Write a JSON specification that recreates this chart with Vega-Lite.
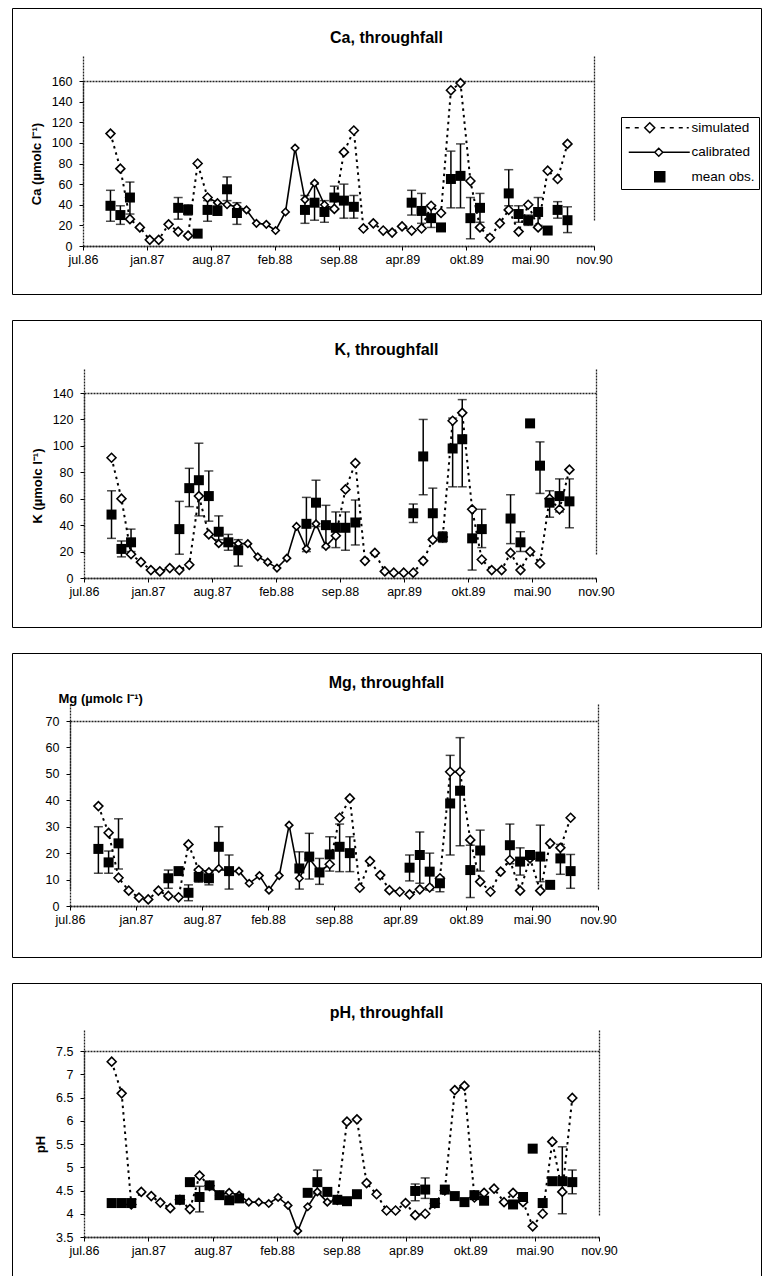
{
"$schema": "https://vega.github.io/schema/vega-lite/v6.json",
"background": "white",
"padding": {"left": 11, "top": 7, "right": 2, "bottom": 0},
"spacing": 24,
"config": {
 "view": {"stroke": "black", "strokeWidth": 1},
 "font": "Liberation Sans",
 "title": {"font": "Liberation Sans", "fontSize": 16, "fontWeight": "bold", "anchor": "middle", "frame": "group", "color": "black"},
 "axis": {"labelFont": "Liberation Sans", "labelFontSize": 12.5, "labelColor": "black", "tickColor": "black", "domain": true, "domainColor": "#222", "domainWidth": 1.3, "domainDash": [2,1], "grid": true, "gridColor": "#222", "gridWidth": 1.3, "gridDash": [2,1], "titleFont": "Liberation Sans", "titleFontSize": 13, "titleFontWeight": "bold", "titleColor": "black", "ticks": true, "tickSize": 4},
 "axisX": {"labelPadding": 3, "labelFlush": false, "labelOverlap": false},
 "axisY": {"labelPadding": 7, "titlePadding": 8},
 "legend": {"title": null, "orient": "none", "strokeColor": "black", "fillColor": "white", "padding": 4, "labelFont": "Liberation Sans", "labelFontSize": 13.5, "labelColor": "black", "labelOffset": 53, "rowPadding": 8.5, "symbolSize": 100, "symbolOpacity": 1, "symbolStrokeColor": "black", "symbolStrokeWidth": 1.5, "symbolFillColor": "transparent"}
},
"datasets": {
 "ca": [
{"d":"1986-09-30","sim":109,"obs":39,"lo":24,"hi":54},
{"d":"1986-10-31","sim":75,"obs":30,"lo":21,"hi":39},
{"d":"1986-11-30","sim":26,"obs":47,"lo":31,"hi":62},
{"d":"1986-12-31","sim":18},
{"d":"1987-01-31","sim":6},
{"d":"1987-02-28","sim":6},
{"d":"1987-03-31","sim":21},
{"d":"1987-04-30","sim":14,"obs":37,"lo":26,"hi":47},
{"d":"1987-05-31","sim":10,"obs":35,"lo":30,"hi":40},
{"d":"1987-06-30","sim":80,"obs":12},
{"d":"1987-07-31","sim":47,"cal":47,"obs":35,"lo":24,"hi":44},
{"d":"1987-08-31","cal":42,"obs":34,"lo":30,"hi":39},
{"d":"1987-09-30","cal":40,"obs":55,"lo":44,"hi":67},
{"d":"1987-10-31","cal":38,"obs":32,"lo":21,"hi":42},
{"d":"1987-11-30","cal":35},
{"d":"1987-12-31","cal":22},
{"d":"1988-01-31","cal":21},
{"d":"1988-02-29","cal":15},
{"d":"1988-03-31","cal":33},
{"d":"1988-04-30","cal":95},
{"d":"1988-05-31","cal":45,"obs":35,"lo":22,"hi":49},
{"d":"1988-06-30","cal":61,"obs":42,"lo":25,"hi":60},
{"d":"1988-07-31","cal":40,"obs":33,"lo":23,"hi":44},
{"d":"1988-08-31","sim":36,"cal":36,"obs":47,"lo":36,"hi":58},
{"d":"1988-09-30","sim":91,"obs":44,"lo":27,"hi":60},
{"d":"1988-10-31","sim":112,"obs":38,"lo":27,"hi":49},
{"d":"1988-11-30","sim":17},
{"d":"1988-12-31","sim":22},
{"d":"1989-01-31","sim":15},
{"d":"1989-02-28","sim":13},
{"d":"1989-03-31","sim":19},
{"d":"1989-04-30","sim":15,"obs":42,"lo":30,"hi":54},
{"d":"1989-05-31","sim":17,"obs":34,"lo":22,"hi":51},
{"d":"1989-06-30","sim":39,"obs":27,"lo":18,"hi":40},
{"d":"1989-07-31","sim":32,"obs":18},
{"d":"1989-08-31","sim":151,"obs":65,"lo":37,"hi":92},
{"d":"1989-09-30","sim":158,"obs":68,"lo":37,"hi":99},
{"d":"1989-10-31","sim":63,"obs":27,"lo":7,"hi":47},
{"d":"1989-11-30","sim":18,"obs":37,"lo":23,"hi":51},
{"d":"1989-12-31","sim":8},
{"d":"1990-01-31","sim":22},
{"d":"1990-02-28","sim":35,"obs":51,"lo":39,"hi":74},
{"d":"1990-03-31","sim":14,"obs":31,"lo":23,"hi":39},
{"d":"1990-04-30","sim":40,"obs":25,"lo":20,"hi":30},
{"d":"1990-05-31","sim":18,"obs":33,"lo":20,"hi":47},
{"d":"1990-06-30","sim":73,"obs":15},
{"d":"1990-07-31","sim":65,"obs":35,"lo":27,"hi":43},
{"d":"1990-08-31","sim":99,"obs":25,"lo":13,"hi":38}
 ],
 "k": [
{"d":"1986-09-30","sim":91,"obs":48,"lo":30,"hi":66},
{"d":"1986-10-31","sim":60,"obs":22,"lo":16,"hi":28},
{"d":"1986-11-30","sim":18,"obs":27,"lo":20,"hi":37},
{"d":"1986-12-31","sim":12},
{"d":"1987-01-31","sim":6},
{"d":"1987-02-28","sim":5},
{"d":"1987-03-31","sim":7.5},
{"d":"1987-04-30","sim":6,"obs":37,"lo":18,"hi":58},
{"d":"1987-05-31","sim":10,"obs":68,"lo":54,"hi":83},
{"d":"1987-06-30","sim":62,"obs":74,"lo":47,"hi":102},
{"d":"1987-07-31","sim":33,"cal":33,"obs":62,"lo":43,"hi":81},
{"d":"1987-08-31","cal":26,"obs":35,"lo":29,"hi":47},
{"d":"1987-09-30","cal":27,"obs":27,"lo":21,"hi":33},
{"d":"1987-10-31","cal":26,"obs":21,"lo":9,"hi":29},
{"d":"1987-11-30","cal":26},
{"d":"1987-12-31","cal":16},
{"d":"1988-01-31","cal":12},
{"d":"1988-02-29","cal":7.5},
{"d":"1988-03-31","cal":15},
{"d":"1988-04-30","cal":39},
{"d":"1988-05-31","cal":22,"obs":41,"lo":20,"hi":61},
{"d":"1988-06-30","cal":41,"obs":57,"lo":39,"hi":74},
{"d":"1988-07-31","cal":24,"obs":40,"lo":23,"hi":55},
{"d":"1988-08-31","sim":32,"cal":32,"obs":38,"lo":23,"hi":50},
{"d":"1988-09-30","sim":67,"obs":38,"lo":21,"hi":50},
{"d":"1988-10-31","sim":87,"obs":42,"lo":25,"hi":59},
{"d":"1988-11-30","sim":13},
{"d":"1988-12-31","sim":19},
{"d":"1989-01-31","sim":5},
{"d":"1989-02-28","sim":4},
{"d":"1989-03-31","sim":4},
{"d":"1989-04-30","sim":4,"obs":49,"lo":42,"hi":56},
{"d":"1989-05-31","sim":13,"obs":92,"lo":63,"hi":120},
{"d":"1989-06-30","sim":29,"obs":49,"lo":30,"hi":68},
{"d":"1989-07-31","sim":31,"obs":31,"lo":27,"hi":35},
{"d":"1989-08-31","sim":119,"obs":98,"lo":69,"hi":121},
{"d":"1989-09-30","sim":125,"obs":105,"lo":69,"hi":135},
{"d":"1989-10-31","sim":52,"obs":30,"lo":6,"hi":52},
{"d":"1989-11-30","sim":14,"obs":37,"lo":23,"hi":52},
{"d":"1989-12-31","sim":6},
{"d":"1990-01-31","sim":6},
{"d":"1990-02-28","sim":19,"obs":45,"lo":26,"hi":63},
{"d":"1990-03-31","sim":6,"obs":27,"lo":20,"hi":35},
{"d":"1990-04-30","sim":20,"obs":117},
{"d":"1990-05-31","sim":11,"obs":85,"lo":64,"hi":103},
{"d":"1990-06-30","sim":60,"obs":57,"lo":46,"hi":66},
{"d":"1990-07-31","sim":52,"obs":62,"lo":50,"hi":75},
{"d":"1990-08-31","sim":82,"obs":58,"lo":38,"hi":75}
 ],
 "mg": [
{"d":"1986-09-30","sim":37.8,"obs":21.6,"lo":12.4,"hi":30},
{"d":"1986-10-31","sim":27.7,"obs":16.5,"lo":12.4,"hi":20.8},
{"d":"1986-11-30","sim":10.7,"obs":23.7,"lo":14,"hi":33},
{"d":"1986-12-31","sim":5.8},
{"d":"1987-01-31","sim":3.2},
{"d":"1987-02-28","sim":2.5},
{"d":"1987-03-31","sim":5.8},
{"d":"1987-04-30","sim":3.8,"obs":10.5,"lo":6.7,"hi":13.6},
{"d":"1987-05-31","sim":3.3,"obs":13.2,"lo":12,"hi":14},
{"d":"1987-06-30","sim":23.3,"obs":5,"lo":2,"hi":8},
{"d":"1987-07-31","sim":13.6,"cal":13.6,"obs":11,"lo":9,"hi":14},
{"d":"1987-08-31","cal":13,"obs":10.5,"lo":8,"hi":13},
{"d":"1987-09-30","cal":14.2,"obs":22.4,"lo":13.6,"hi":30},
{"d":"1987-10-31","cal":13,"obs":13.2,"lo":6.4,"hi":19.3},
{"d":"1987-11-30","cal":13.2},
{"d":"1987-12-31","cal":8.6},
{"d":"1988-01-31","cal":11.5},
{"d":"1988-02-29","cal":6},
{"d":"1988-03-31","cal":11.5},
{"d":"1988-04-30","cal":30.6},
{"d":"1988-05-31","cal":10.5,"obs":14.2,"lo":6.4,"hi":20.5},
{"d":"1988-06-30","cal":18,"obs":18.7,"lo":10.2,"hi":27.5},
{"d":"1988-07-31","cal":13,"obs":12.7,"lo":8.2,"hi":18},
{"d":"1988-08-31","sim":15.8,"cal":15.8,"obs":19.5,"lo":13.2,"hi":26.2},
{"d":"1988-09-30","sim":33.4,"obs":22.4,"lo":13,"hi":31},
{"d":"1988-10-31","sim":40.7,"obs":20,"lo":13,"hi":26.2},
{"d":"1988-11-30","sim":6.9},
{"d":"1988-12-31","sim":17},
{"d":"1989-01-31","sim":11.7},
{"d":"1989-02-28","sim":6},
{"d":"1989-03-31","sim":5.4},
{"d":"1989-04-30","sim":4.4,"obs":14.5,"lo":9.5,"hi":19.3},
{"d":"1989-05-31","sim":6.3,"obs":19.3,"lo":8.6,"hi":28},
{"d":"1989-06-30","sim":7,"obs":13,"lo":6,"hi":20},
{"d":"1989-07-31","sim":10.5,"obs":8.6,"lo":5.4,"hi":11},
{"d":"1989-08-31","sim":50.8,"obs":38.8,"lo":19.3,"hi":57},
{"d":"1989-09-30","sim":50.8,"obs":43.6,"lo":22.8,"hi":63.7},
{"d":"1989-10-31","sim":25,"obs":13.6,"lo":3.2,"hi":23},
{"d":"1989-11-30","sim":9.2,"obs":21,"lo":13.2,"hi":28.7},
{"d":"1989-12-31","sim":5.4},
{"d":"1990-01-31","sim":13},
{"d":"1990-02-28","sim":17.4,"obs":23,"lo":16,"hi":31},
{"d":"1990-03-31","sim":5.8,"obs":16.8,"lo":11.7,"hi":22},
{"d":"1990-04-30","sim":18,"obs":19.3},
{"d":"1990-05-31","sim":5.8,"obs":18.7,"lo":9.2,"hi":30.6},
{"d":"1990-06-30","sim":23.7,"obs":8},
{"d":"1990-07-31","sim":22,"obs":18,"lo":12,"hi":23.3},
{"d":"1990-08-31","sim":33.4,"obs":13.2,"lo":6.7,"hi":19.5}
 ],
 "ph": [
{"d":"1986-09-30","sim":7.27,"obs":4.23},
{"d":"1986-10-31","sim":6.59,"obs":4.23},
{"d":"1986-11-30","sim":4.2,"obs":4.23},
{"d":"1986-12-31","sim":4.47},
{"d":"1987-01-31","sim":4.38},
{"d":"1987-02-28","sim":4.24},
{"d":"1987-03-31","sim":4.12},
{"d":"1987-04-30","sim":4.3,"obs":4.3},
{"d":"1987-05-31","sim":4.1,"obs":4.68},
{"d":"1987-06-30","sim":4.82,"obs":4.36,"lo":4.04,"hi":4.59},
{"d":"1987-07-31","sim":4.6,"cal":4.6,"obs":4.61},
{"d":"1987-08-31","cal":4.4,"obs":4.4},
{"d":"1987-09-30","cal":4.46,"obs":4.29},
{"d":"1987-10-31","cal":4.4,"obs":4.33},
{"d":"1987-11-30","cal":4.25},
{"d":"1987-12-31","cal":4.25},
{"d":"1988-01-31","cal":4.22},
{"d":"1988-02-29","cal":4.35},
{"d":"1988-03-31","cal":4.18},
{"d":"1988-04-30","cal":3.63},
{"d":"1988-05-31","cal":4.15,"obs":4.45},
{"d":"1988-06-30","cal":4.47,"obs":4.68,"lo":4.43,"hi":4.94},
{"d":"1988-07-31","cal":4.25,"obs":4.47},
{"d":"1988-08-31","sim":4.3,"cal":4.3,"obs":4.3},
{"d":"1988-09-30","sim":5.98,"obs":4.27},
{"d":"1988-10-31","sim":6.03,"obs":4.42},
{"d":"1988-11-30","sim":4.66},
{"d":"1988-12-31","sim":4.42},
{"d":"1989-01-31","sim":4.07},
{"d":"1989-02-28","sim":4.07},
{"d":"1989-03-31","sim":4.23},
{"d":"1989-04-30","sim":3.97,"obs":4.49,"lo":4.28,"hi":4.64},
{"d":"1989-05-31","sim":4.0,"obs":4.52,"lo":4.33,"hi":4.77},
{"d":"1989-06-30","sim":4.22,"obs":4.23},
{"d":"1989-07-31","sim":4.5,"obs":4.52},
{"d":"1989-08-31","sim":6.66,"obs":4.38},
{"d":"1989-09-30","sim":6.75,"obs":4.25},
{"d":"1989-10-31","sim":4.35,"obs":4.4},
{"d":"1989-11-30","sim":4.45,"obs":4.28},
{"d":"1989-12-31","sim":4.54},
{"d":"1990-01-31","sim":4.25},
{"d":"1990-02-28","sim":4.45,"obs":4.2},
{"d":"1990-03-31","sim":4.25,"obs":4.36},
{"d":"1990-04-30","sim":3.73,"obs":5.4},
{"d":"1990-05-31","sim":4.0,"obs":4.23},
{"d":"1990-06-30","sim":5.55,"obs":4.7},
{"d":"1990-07-31","sim":4.47,"obs":4.7,"lo":4.0,"hi":5.44},
{"d":"1990-08-31","sim":6.49,"obs":4.68,"lo":4.43,"hi":4.94}
 ]
},
"vconcat": [
{
 "width": 749, "height": 286,
 "title": {"text": "Ca, throughfall", "offset": -38},
 "data": {"name": "ca"},
 "transform": [{"fold": ["sim","cal","obs"], "as": ["s","v"]}],
 "encoding": {
  "x": {"field": "d", "type": "temporal", "scale": {"domain": [{"year":1986,"month":7,"date":6},{"year":1990,"month":11,"date":22}], "range": [71,582], "nice": false},
   "axis": {"orient": "bottom", "offset": -48, "title": null, "values": [{"year":1987,"month":1,"date":22},{"year":1987,"month":8,"date":10},{"year":1988,"month":2,"date":26},{"year":1988,"month":9,"date":13},{"year":1989,"month":4,"date":1},{"year":1989,"month":10,"date":18},{"year":1990,"month":5,"date":6},{"year":1990,"month":11,"date":22},{"year":1986,"month":7,"date":6}], "labelExpr": "['jan','feb','mar','apr','mai','jun','jul','aug','sep','okt','nov','des'][month(datum.value)] + '.' + timeFormat(datum.value, '%y')", "gridOpacity": {"condition": {"test": "datum.value < datetime(1986,7,1) || datum.value > datetime(1990,10,1)", "value": 1}, "value": 0}}},
  "y": {"field": "v", "type": "quantitative", "scale": {"domain": [0,160], "range": [238,73], "nice": false, "zero": false},
   "axis": {"orient": "left", "offset": -71, "values": [20,40,60,80,100,120,140,160,0], "title": "Ca (µmolc l⁻¹)", "gridOpacity": {"condition": {"test": "datum.value == 0 || datum.value == 160", "value": 1}, "value": 0}}}
 },
 "layer": [
  {"transform": [{"filter": "datum.s == 'sim'"}], "mark": {"type": "line", "color": "black", "strokeWidth": 2, "strokeDash": [2.5,4], "invalid": "break-paths-filter-domains"}},
  {"transform": [{"filter": "datum.s == 'cal'"}], "mark": {"type": "line", "color": "black", "strokeWidth": 1.6, "invalid": "break-paths-filter-domains"}},
  {"transform": [{"filter": "datum.s == 'obs' && isValid(datum.lo)"}], "mark": {"type": "rule", "color": "black", "strokeWidth": 1.5},
   "encoding": {"y": {"field": "lo", "type": "quantitative", "scale": {"domain": [0,160], "range": [238,73], "nice": false, "zero": false},
     "axis": {"orient": "left", "offset": -71, "values": [20,40,60,80,100,120,140,160,0], "title": "Ca (µmolc l⁻¹)", "gridOpacity": {"condition": {"test": "datum.value == 0 || datum.value == 160", "value": 1}, "value": 0}}}, "y2": {"field": "hi"}}},
  {"transform": [{"filter": "datum.s == 'obs' && isValid(datum.lo)"}], "mark": {"type": "tick", "orient": "horizontal", "color": "black", "size": 9, "thickness": 1.5},
   "encoding": {"y": {"field": "lo", "type": "quantitative", "scale": {"domain": [0,160], "range": [238,73], "nice": false, "zero": false},
     "axis": {"orient": "left", "offset": -71, "values": [20,40,60,80,100,120,140,160,0], "title": "Ca (µmolc l⁻¹)", "gridOpacity": {"condition": {"test": "datum.value == 0 || datum.value == 160", "value": 1}, "value": 0}}}}},
  {"transform": [{"filter": "datum.s == 'obs' && isValid(datum.hi)"}], "mark": {"type": "tick", "orient": "horizontal", "color": "black", "size": 9, "thickness": 1.5},
   "encoding": {"y": {"field": "hi", "type": "quantitative", "scale": {"domain": [0,160], "range": [238,73], "nice": false, "zero": false},
     "axis": {"orient": "left", "offset": -71, "values": [20,40,60,80,100,120,140,160,0], "title": "Ca (µmolc l⁻¹)", "gridOpacity": {"condition": {"test": "datum.value == 0 || datum.value == 160", "value": 1}, "value": 0}}}}},
  {"transform": [{"filter": "datum.s == 'sim' && isValid(datum.v)"}], "mark": {"type": "point", "shape": "diamond", "filled": true, "fill": "white", "stroke": "black", "strokeWidth": 1.6, "size": 80, "opacity": 1}},
  {"transform": [{"filter": "datum.s == 'cal' && isValid(datum.v) && !isValid(datum.sim)"}], "mark": {"type": "point", "shape": "diamond", "filled": true, "fill": "white", "stroke": "black", "strokeWidth": 1.6, "size": 55, "opacity": 1}},
  {"transform": [{"filter": "datum.s == 'obs' && isValid(datum.v)"}], "mark": {"type": "point", "shape": "square", "filled": true, "color": "black", "size": 100, "opacity": 1}},
  {"transform": [{"filter": "isValid(datum.v)"}], "mark": {"type": "point", "filled": false, "color": "black", "opacity": 0},
   "encoding": {"shape": {"field": "s", "type": "nominal",
     "scale": {"domain": ["sim","cal","obs"], "range": ["M-1.2,0H-0.4M0.6,0H1.4M2.6,0L3.6,-1L4.6,0L3.6,1ZM5.8,0H6.6M7.6,0H8.4M9.4,0H10.2M11,0H11.4", "M-0.6,0H4.6L5.4,-0.8L6.2,0L5.4,0.8L4.6,0M6.2,0H11.6", "M4.6,-1H6.6V1H4.6ZM4.6,-0.7H6.6M4.6,-0.4H6.6M4.6,-0.1H6.6M4.6,0.2H6.6M4.6,0.5H6.6M4.6,0.8H6.6"]},
     "legend": {"legendX": 609, "legendY": 109, "labelExpr": "datum.value == 'sim' ? 'simulated' : datum.value == 'cal' ? 'calibrated' : 'mean obs.'"}}}}
 ]
},
{
 "width": 749, "height": 307,
 "title": {"text": "K, throughfall", "offset": -38},
 "data": {"name": "k"},
 "transform": [{"fold": ["sim","cal","obs"], "as": ["s","v"]}],
 "encoding": {
  "x": {"field": "d", "type": "temporal", "scale": {"domain": [{"year":1986,"month":7,"date":6},{"year":1990,"month":11,"date":22}], "range": [72,584], "nice": false},
   "axis": {"orient": "bottom", "offset": -49, "title": null, "values": [{"year":1987,"month":1,"date":22},{"year":1987,"month":8,"date":10},{"year":1988,"month":2,"date":26},{"year":1988,"month":9,"date":13},{"year":1989,"month":4,"date":1},{"year":1989,"month":10,"date":18},{"year":1990,"month":5,"date":6},{"year":1990,"month":11,"date":22},{"year":1986,"month":7,"date":6}], "labelExpr": "['jan','feb','mar','apr','mai','jun','jul','aug','sep','okt','nov','des'][month(datum.value)] + '.' + timeFormat(datum.value, '%y')", "gridOpacity": {"condition": {"test": "datum.value < datetime(1986,7,1) || datum.value > datetime(1990,10,1)", "value": 1}, "value": 0}}},
  "y": {"field": "v", "type": "quantitative", "scale": {"domain": [0,140], "range": [258,73], "nice": false, "zero": false},
   "axis": {"orient": "left", "offset": -72, "values": [20,40,60,80,100,120,140,0], "title": "K (µmolc l⁻¹)", "gridOpacity": {"condition": {"test": "datum.value == 0 || datum.value == 140", "value": 1}, "value": 0}}}
 },
 "layer": [
  {"transform": [{"filter": "datum.s == 'sim'"}], "mark": {"type": "line", "color": "black", "strokeWidth": 2, "strokeDash": [2.5,4], "invalid": "break-paths-filter-domains"}},
  {"transform": [{"filter": "datum.s == 'cal'"}], "mark": {"type": "line", "color": "black", "strokeWidth": 1.6, "invalid": "break-paths-filter-domains"}},
  {"transform": [{"filter": "datum.s == 'obs' && isValid(datum.lo)"}], "mark": {"type": "rule", "color": "black", "strokeWidth": 1.5},
   "encoding": {"y": {"field": "lo", "type": "quantitative", "scale": {"domain": [0,140], "range": [258,73], "nice": false, "zero": false},
     "axis": {"orient": "left", "offset": -72, "values": [20,40,60,80,100,120,140,0], "title": "K (µmolc l⁻¹)", "gridOpacity": {"condition": {"test": "datum.value == 0 || datum.value == 140", "value": 1}, "value": 0}}}, "y2": {"field": "hi"}}},
  {"transform": [{"filter": "datum.s == 'obs' && isValid(datum.lo)"}], "mark": {"type": "tick", "orient": "horizontal", "color": "black", "size": 9, "thickness": 1.5},
   "encoding": {"y": {"field": "lo", "type": "quantitative", "scale": {"domain": [0,140], "range": [258,73], "nice": false, "zero": false},
     "axis": {"orient": "left", "offset": -72, "values": [20,40,60,80,100,120,140,0], "title": "K (µmolc l⁻¹)", "gridOpacity": {"condition": {"test": "datum.value == 0 || datum.value == 140", "value": 1}, "value": 0}}}}},
  {"transform": [{"filter": "datum.s == 'obs' && isValid(datum.hi)"}], "mark": {"type": "tick", "orient": "horizontal", "color": "black", "size": 9, "thickness": 1.5},
   "encoding": {"y": {"field": "hi", "type": "quantitative", "scale": {"domain": [0,140], "range": [258,73], "nice": false, "zero": false},
     "axis": {"orient": "left", "offset": -72, "values": [20,40,60,80,100,120,140,0], "title": "K (µmolc l⁻¹)", "gridOpacity": {"condition": {"test": "datum.value == 0 || datum.value == 140", "value": 1}, "value": 0}}}}},
  {"transform": [{"filter": "datum.s == 'sim' && isValid(datum.v)"}], "mark": {"type": "point", "shape": "diamond", "filled": true, "fill": "white", "stroke": "black", "strokeWidth": 1.6, "size": 80, "opacity": 1}},
  {"transform": [{"filter": "datum.s == 'cal' && isValid(datum.v) && !isValid(datum.sim)"}], "mark": {"type": "point", "shape": "diamond", "filled": true, "fill": "white", "stroke": "black", "strokeWidth": 1.6, "size": 55, "opacity": 1}},
  {"transform": [{"filter": "datum.s == 'obs' && isValid(datum.v)"}], "mark": {"type": "point", "shape": "square", "filled": true, "color": "black", "size": 100, "opacity": 1}},
  {"transform": [{"filter": "isValid(datum.v)"}], "mark": {"type": "point", "filled": false, "color": "black", "opacity": 0},
   "encoding": {"shape": {"field": "s", "type": "nominal",
     "scale": {"domain": ["sim","cal","obs"], "range": ["M-1.2,0H-0.4M0.6,0H1.4M2.6,0L3.6,-1L4.6,0L3.6,1ZM5.8,0H6.6M7.6,0H8.4M9.4,0H10.2M11,0H11.4", "M-0.6,0H4.6L5.4,-0.8L6.2,0L5.4,0.8L4.6,0M6.2,0H11.6", "M4.6,-1H6.6V1H4.6ZM4.6,-0.7H6.6M4.6,-0.4H6.6M4.6,-0.1H6.6M4.6,0.2H6.6M4.6,0.5H6.6M4.6,0.8H6.6"]},
     "legend": {"legendX": 612, "legendY": 118, "labelExpr": "datum.value == 'sim' ? 'simulated' : datum.value == 'cal' ? 'calibrated' : 'mean obs.'"}}}}
 ]
},
{
 "width": 749, "height": 304,
 "title": {"text": "Mg, throughfall", "offset": -38},
 "data": {"name": "mg"},
 "transform": [{"fold": ["sim","cal","obs"], "as": ["s","v"]}],
 "encoding": {
  "x": {"field": "d", "type": "temporal", "scale": {"domain": [{"year":1986,"month":7,"date":6},{"year":1990,"month":11,"date":22}], "range": [58,586], "nice": false},
   "axis": {"orient": "bottom", "offset": -51, "title": null, "values": [{"year":1987,"month":1,"date":22},{"year":1987,"month":8,"date":10},{"year":1988,"month":2,"date":26},{"year":1988,"month":9,"date":13},{"year":1989,"month":4,"date":1},{"year":1989,"month":10,"date":18},{"year":1990,"month":5,"date":6},{"year":1990,"month":11,"date":22},{"year":1986,"month":7,"date":6}], "labelExpr": "['jan','feb','mar','apr','mai','jun','jul','aug','sep','okt','nov','des'][month(datum.value)] + '.' + timeFormat(datum.value, '%y')", "gridOpacity": {"condition": {"test": "datum.value < datetime(1986,7,1) || datum.value > datetime(1990,10,1)", "value": 1}, "value": 0}}},
  "y": {"field": "v", "type": "quantitative", "scale": {"domain": [0,70], "range": [253,68], "nice": false, "zero": false},
   "axis": {"orient": "left", "offset": -58, "values": [10,20,30,40,50,60,70,0], "title": "Mg (µmolc l⁻¹)", "titleAngle": 0, "titleX": -12, "titleY": 45, "titleAlign": "left", "titleBaseline": "middle", "gridOpacity": {"condition": {"test": "datum.value == 0 || datum.value == 70", "value": 1}, "value": 0}}}
 },
 "layer": [
  {"transform": [{"filter": "datum.s == 'sim'"}], "mark": {"type": "line", "color": "black", "strokeWidth": 2, "strokeDash": [2.5,4], "invalid": "break-paths-filter-domains"}},
  {"transform": [{"filter": "datum.s == 'cal'"}], "mark": {"type": "line", "color": "black", "strokeWidth": 1.6, "invalid": "break-paths-filter-domains"}},
  {"transform": [{"filter": "datum.s == 'obs' && isValid(datum.lo)"}], "mark": {"type": "rule", "color": "black", "strokeWidth": 1.5},
   "encoding": {"y": {"field": "lo", "type": "quantitative", "scale": {"domain": [0,70], "range": [253,68], "nice": false, "zero": false},
     "axis": {"orient": "left", "offset": -58, "values": [10,20,30,40,50,60,70,0], "title": "Mg (µmolc l⁻¹)", "titleAngle": 0, "titleX": -12, "titleY": 45, "titleAlign": "left", "titleBaseline": "middle", "gridOpacity": {"condition": {"test": "datum.value == 0 || datum.value == 70", "value": 1}, "value": 0}}}, "y2": {"field": "hi"}}},
  {"transform": [{"filter": "datum.s == 'obs' && isValid(datum.lo)"}], "mark": {"type": "tick", "orient": "horizontal", "color": "black", "size": 9, "thickness": 1.5},
   "encoding": {"y": {"field": "lo", "type": "quantitative", "scale": {"domain": [0,70], "range": [253,68], "nice": false, "zero": false},
     "axis": {"orient": "left", "offset": -58, "values": [10,20,30,40,50,60,70,0], "title": "Mg (µmolc l⁻¹)", "titleAngle": 0, "titleX": -12, "titleY": 45, "titleAlign": "left", "titleBaseline": "middle", "gridOpacity": {"condition": {"test": "datum.value == 0 || datum.value == 70", "value": 1}, "value": 0}}}}},
  {"transform": [{"filter": "datum.s == 'obs' && isValid(datum.hi)"}], "mark": {"type": "tick", "orient": "horizontal", "color": "black", "size": 9, "thickness": 1.5},
   "encoding": {"y": {"field": "hi", "type": "quantitative", "scale": {"domain": [0,70], "range": [253,68], "nice": false, "zero": false},
     "axis": {"orient": "left", "offset": -58, "values": [10,20,30,40,50,60,70,0], "title": "Mg (µmolc l⁻¹)", "titleAngle": 0, "titleX": -12, "titleY": 45, "titleAlign": "left", "titleBaseline": "middle", "gridOpacity": {"condition": {"test": "datum.value == 0 || datum.value == 70", "value": 1}, "value": 0}}}}},
  {"transform": [{"filter": "datum.s == 'sim' && isValid(datum.v)"}], "mark": {"type": "point", "shape": "diamond", "filled": true, "fill": "white", "stroke": "black", "strokeWidth": 1.6, "size": 80, "opacity": 1}},
  {"transform": [{"filter": "datum.s == 'cal' && isValid(datum.v) && !isValid(datum.sim)"}], "mark": {"type": "point", "shape": "diamond", "filled": true, "fill": "white", "stroke": "black", "strokeWidth": 1.6, "size": 55, "opacity": 1}},
  {"transform": [{"filter": "datum.s == 'obs' && isValid(datum.v)"}], "mark": {"type": "point", "shape": "square", "filled": true, "color": "black", "size": 100, "opacity": 1}},
  {"transform": [{"filter": "isValid(datum.v)"}], "mark": {"type": "point", "filled": false, "color": "black", "opacity": 0},
   "encoding": {"shape": {"field": "s", "type": "nominal",
     "scale": {"domain": ["sim","cal","obs"], "range": ["M-1.2,0H-0.4M0.6,0H1.4M2.6,0L3.6,-1L4.6,0L3.6,1ZM5.8,0H6.6M7.6,0H8.4M9.4,0H10.2M11,0H11.4", "M-0.6,0H4.6L5.4,-0.8L6.2,0L5.4,0.8L4.6,0M6.2,0H11.6", "M4.6,-1H6.6V1H4.6ZM4.6,-0.7H6.6M4.6,-0.4H6.6M4.6,-0.1H6.6M4.6,0.2H6.6M4.6,0.5H6.6M4.6,0.8H6.6"]},
     "legend": {"legendX": 614, "legendY": 117, "labelExpr": "datum.value == 'sim' ? 'simulated' : datum.value == 'cal' ? 'calibrated' : 'mean obs.'"}}}}
 ]
},
{
 "width": 749, "height": 301,
 "title": {"text": "pH, throughfall", "offset": -38},
 "data": {"name": "ph"},
 "transform": [{"fold": ["sim","cal","obs"], "as": ["s","v"]}],
 "encoding": {
  "x": {"field": "d", "type": "temporal", "scale": {"domain": [{"year":1986,"month":7,"date":6},{"year":1990,"month":11,"date":22}], "range": [72,587], "nice": false},
   "axis": {"orient": "bottom", "offset": -47, "title": null, "values": [{"year":1987,"month":1,"date":22},{"year":1987,"month":8,"date":10},{"year":1988,"month":2,"date":26},{"year":1988,"month":9,"date":13},{"year":1989,"month":4,"date":1},{"year":1989,"month":10,"date":18},{"year":1990,"month":5,"date":6},{"year":1990,"month":11,"date":22},{"year":1986,"month":7,"date":6}], "labelExpr": "['jan','feb','mar','apr','mai','jun','jul','aug','sep','okt','nov','des'][month(datum.value)] + '.' + timeFormat(datum.value, '%y')", "gridOpacity": {"condition": {"test": "datum.value < datetime(1986,7,1) || datum.value > datetime(1990,10,1)", "value": 1}, "value": 0}}},
  "y": {"field": "v", "type": "quantitative", "scale": {"domain": [3.5,7.5], "range": [254,68], "nice": false, "zero": false},
   "axis": {"orient": "left", "offset": -72, "values": [4,4.5,5,5.5,6,6.5,7,7.5,3.5], "format": "~g", "title": "pH", "gridOpacity": {"condition": {"test": "datum.value == 3.5 || datum.value == 7.5", "value": 1}, "value": 0}}}
 },
 "layer": [
  {"transform": [{"filter": "datum.s == 'sim'"}], "mark": {"type": "line", "color": "black", "strokeWidth": 2, "strokeDash": [2.5,4], "invalid": "break-paths-filter-domains"}},
  {"transform": [{"filter": "datum.s == 'cal'"}], "mark": {"type": "line", "color": "black", "strokeWidth": 1.6, "invalid": "break-paths-filter-domains"}},
  {"transform": [{"filter": "datum.s == 'obs' && isValid(datum.lo)"}], "mark": {"type": "rule", "color": "black", "strokeWidth": 1.5},
   "encoding": {"y": {"field": "lo", "type": "quantitative", "scale": {"domain": [3.5,7.5], "range": [254,68], "nice": false, "zero": false},
     "axis": {"orient": "left", "offset": -72, "values": [4,4.5,5,5.5,6,6.5,7,7.5,3.5], "format": "~g", "title": "pH", "gridOpacity": {"condition": {"test": "datum.value == 3.5 || datum.value == 7.5", "value": 1}, "value": 0}}}, "y2": {"field": "hi"}}},
  {"transform": [{"filter": "datum.s == 'obs' && isValid(datum.lo)"}], "mark": {"type": "tick", "orient": "horizontal", "color": "black", "size": 9, "thickness": 1.5},
   "encoding": {"y": {"field": "lo", "type": "quantitative", "scale": {"domain": [3.5,7.5], "range": [254,68], "nice": false, "zero": false},
     "axis": {"orient": "left", "offset": -72, "values": [4,4.5,5,5.5,6,6.5,7,7.5,3.5], "format": "~g", "title": "pH", "gridOpacity": {"condition": {"test": "datum.value == 3.5 || datum.value == 7.5", "value": 1}, "value": 0}}}}},
  {"transform": [{"filter": "datum.s == 'obs' && isValid(datum.hi)"}], "mark": {"type": "tick", "orient": "horizontal", "color": "black", "size": 9, "thickness": 1.5},
   "encoding": {"y": {"field": "hi", "type": "quantitative", "scale": {"domain": [3.5,7.5], "range": [254,68], "nice": false, "zero": false},
     "axis": {"orient": "left", "offset": -72, "values": [4,4.5,5,5.5,6,6.5,7,7.5,3.5], "format": "~g", "title": "pH", "gridOpacity": {"condition": {"test": "datum.value == 3.5 || datum.value == 7.5", "value": 1}, "value": 0}}}}},
  {"transform": [{"filter": "datum.s == 'sim' && isValid(datum.v)"}], "mark": {"type": "point", "shape": "diamond", "filled": true, "fill": "white", "stroke": "black", "strokeWidth": 1.6, "size": 80, "opacity": 1}},
  {"transform": [{"filter": "datum.s == 'cal' && isValid(datum.v) && !isValid(datum.sim)"}], "mark": {"type": "point", "shape": "diamond", "filled": true, "fill": "white", "stroke": "black", "strokeWidth": 1.6, "size": 55, "opacity": 1}},
  {"transform": [{"filter": "datum.s == 'obs' && isValid(datum.v)"}], "mark": {"type": "point", "shape": "square", "filled": true, "color": "black", "size": 100, "opacity": 1}},
  {"transform": [{"filter": "isValid(datum.v)"}], "mark": {"type": "point", "filled": false, "color": "black", "opacity": 0},
   "encoding": {"shape": {"field": "s", "type": "nominal",
     "scale": {"domain": ["sim","cal","obs"], "range": ["M-1.2,0H-0.4M0.6,0H1.4M2.6,0L3.6,-1L4.6,0L3.6,1ZM5.8,0H6.6M7.6,0H8.4M9.4,0H10.2M11,0H11.4", "M-0.6,0H4.6L5.4,-0.8L6.2,0L5.4,0.8L4.6,0M6.2,0H11.6", "M4.6,-1H6.6V1H4.6ZM4.6,-0.7H6.6M4.6,-0.4H6.6M4.6,-0.1H6.6M4.6,0.2H6.6M4.6,0.5H6.6M4.6,0.8H6.6"]},
     "legend": {"legendX": 615, "legendY": 117, "labelExpr": "datum.value == 'sim' ? 'simulated' : datum.value == 'cal' ? 'calibrated' : 'mean obs.'"}}}}
 ]
}
]
}
